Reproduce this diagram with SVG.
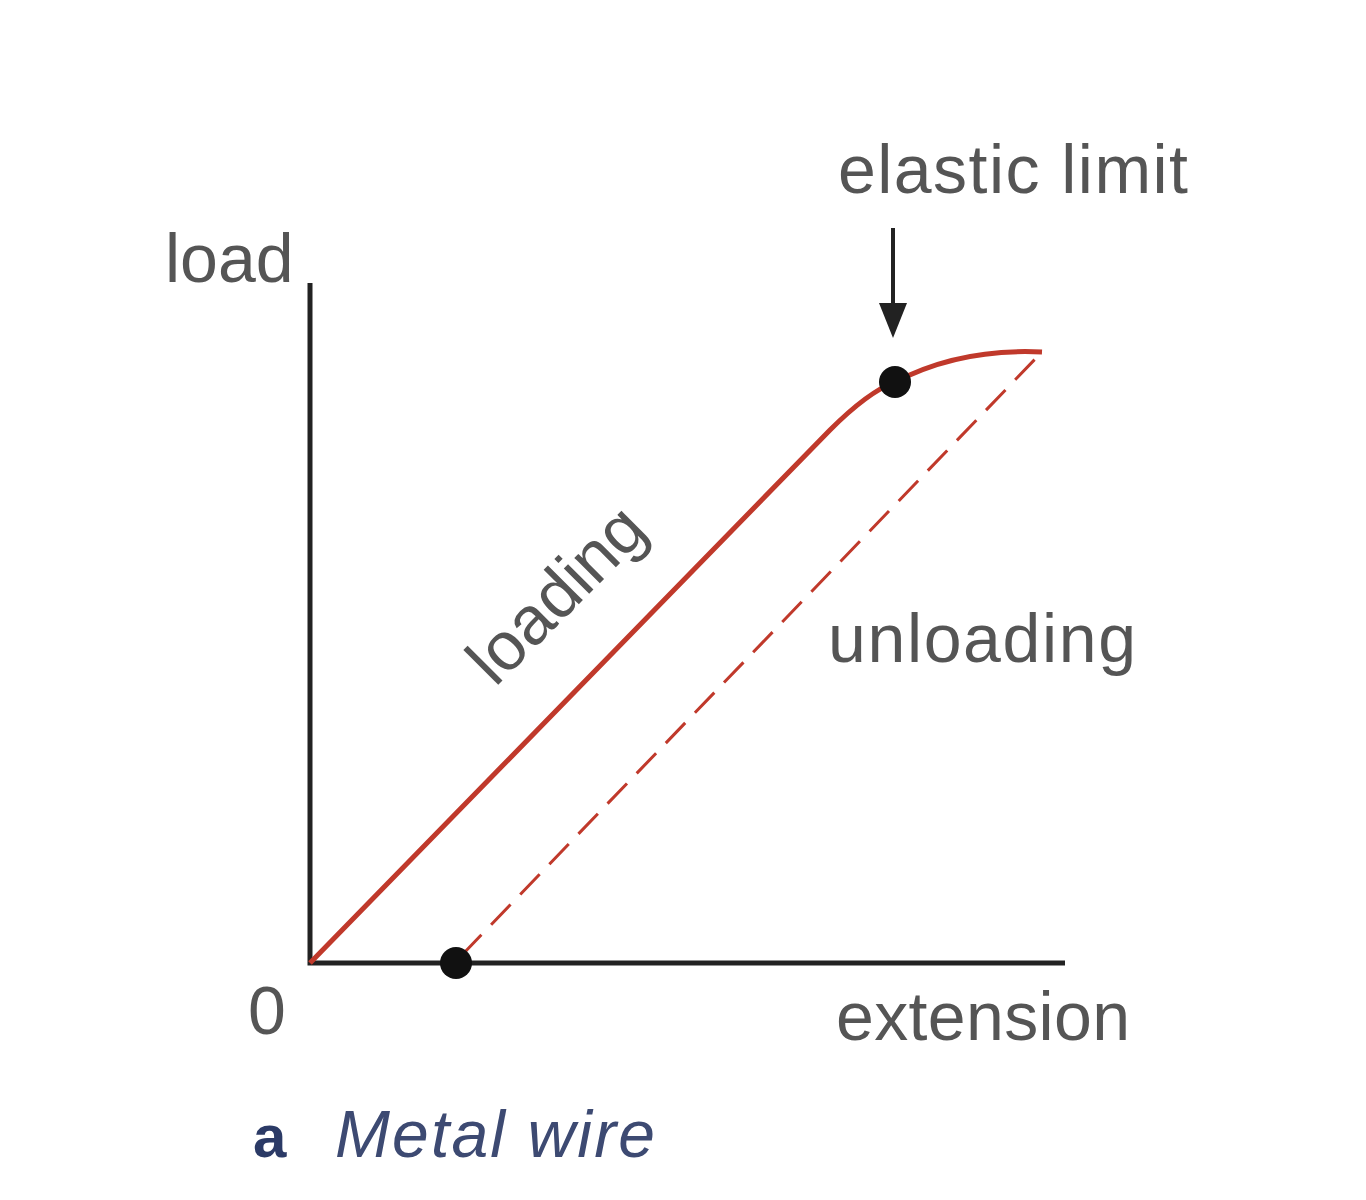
<svg xmlns="http://www.w3.org/2000/svg" width="1366" height="1200" viewBox="0 0 1366 1200">
<style>
.t{font-family:"Liberation Sans",Arial,sans-serif;font-size:68px;fill:#555}
.ax{stroke:#222;stroke-width:5;fill:none}
.a{font-family:"Liberation Sans",Arial,sans-serif;font-size:60px;font-weight:bold;fill:#2b3a66}
.m{font-family:"Liberation Sans",Arial,sans-serif;font-size:66px;font-style:italic;fill:#3d4a72}
</style>
<rect width="1366" height="1200" fill="#fff"/>
<g id="axes">
<path class="ax" d="M310,283 V963 H1065"/>
</g>
<g id="connectors">
<path d="M310,963 L830,430 Q868,392 895,382 Q960,348 1042,352" stroke="#c0392b" stroke-width="5" fill="none"/>
<path d="M462,955 L1040,354" stroke="#c0392b" stroke-width="3" stroke-dasharray="28,14" fill="none"/>
<line x1="893" y1="228" x2="893" y2="310" stroke="#222" stroke-width="4"/>
<path d="M879,303 L893,338 L907,303 Z" fill="#222"/>
</g>
<g id="points">
<circle cx="895" cy="382" r="16" fill="#111"/>
<circle cx="456" cy="963" r="16" fill="#111"/>
</g>
<g id="labels">
<text class="t" x="838" y="193" textLength="350">elastic limit</text>
<text class="t" x="165" y="282">load</text>
<text class="t" x="828" y="662" textLength="308">unloading</text>
<text class="t" x="248" y="1034">0</text>
<text class="t" x="836" y="1040" textLength="294">extension</text>
<text class="t" transform="translate(495,688) rotate(-45)">loading</text>
<text class="a" x="253" y="1157">a</text>
<text class="m" x="335" y="1157" textLength="320">Metal wire</text>
</g>
</svg>
